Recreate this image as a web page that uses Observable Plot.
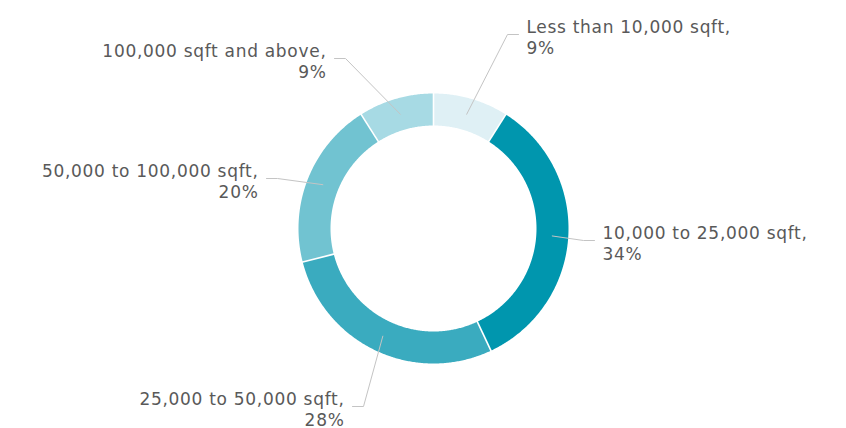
<!DOCTYPE html>
<html>
<head>
<meta charset="utf-8">
<script src="https://cdn.jsdelivr.net/npm/d3@7"></script>
<script src="https://cdn.jsdelivr.net/npm/@observablehq/plot@0.6"></script>
<style>
  html, body { margin: 0; padding: 0; background: #fff; }
  #chart svg text { letter-spacing: 0.7px; }
</style>
</head>
<body>
<div id="chart"></div>
<script>
// ---- data ----
const categories = [
  "Less than 10,000 sqft",
  "10,000 to 25,000 sqft",
  "25,000 to 50,000 sqft",
  "50,000 to 100,000 sqft",
  "100,000 sqft and above"
];
const shares = [9, 34, 28, 20, 9];
const colors = ["#dff0f5", "#0096ae", "#3aabbf", "#71c3d1", "#a7dae4"];

// ---- layout (label elbow points relative to the donut centre, y up) ----
const labelElbows = [[74, 194], [150, -12], [-70, -178], [-156, 50], [-88, 170]];

const W = 846, H = 428, CX = 433, CY = 228;
const R_OUT = 135, R_IN = 103, R_MID = 119;
const total = d3.sum(shares);

const toXY = (angDeg, r) => {
  const a = angDeg * Math.PI / 180;
  return [r * Math.sin(a), r * Math.cos(a)];
};

// slice angles
let cum = 0;
const slices = categories.map((key, i) => {
  const a0 = cum / total * 360;
  cum += shares[i];
  const a1 = cum / total * 360;
  return {key, share: shares[i], a0, a1, mid: (a0 + a1) / 2, side: (a0 + a1) / 2 < 180 ? "right" : "left", elbow: labelElbows[i]};
});

// ring polygons
const ringPts = [];
for (const s of slices) {
  const n = Math.max(4, Math.ceil((s.a1 - s.a0) / 0.5));
  const outer = d3.range(n + 1).map(k => s.a0 + (s.a1 - s.a0) * k / n);
  for (const a of outer) { const [x, y] = toXY(a, R_OUT); ringPts.push({key: s.key, x, y}); }
  for (const a of outer.slice().reverse()) { const [x, y] = toXY(a, R_IN); ringPts.push({key: s.key, x, y}); }
  const [x0, y0] = toXY(s.a0, R_OUT); ringPts.push({key: s.key, x: x0, y: y0});
}

// separators between slices
const seps = slices.map(s => {
  const [x1, y1] = toXY(s.a0, R_IN - 1);
  const [x2, y2] = toXY(s.a0, R_OUT + 1);
  return {x1, y1, x2, y2};
});

// leader lines
const HSEG = 11, GAP = 8;
const leaderPts = [];
const labels = [];
for (const s of slices) {
  const [sx, sy] = toXY(s.mid, R_MID);
  const [ex, ey] = s.elbow;
  const dir = s.side === "right" ? 1 : -1;
  leaderPts.push({key: s.key, x: sx, y: sy});
  leaderPts.push({key: s.key, x: ex, y: ey});
  leaderPts.push({key: s.key, x: ex + dir * HSEG, y: ey});
  labels.push({side: s.side, x: ex + dir * (HSEG + GAP), y: ey, text: `${s.key},\n${s.share}%`});
}

const textOpts = {
  x: "x", y: "y", text: "text",
  fill: "#595959", fontSize: 17, lineHeight: 20.5 / 17,
  lineAnchor: "top", dy: -15.6
};

const chart = Plot.plot({
  width: W, height: H, margin: 0,
  x: {domain: [-CX, W - CX], axis: null},
  y: {domain: [-(H - CY), CY], axis: null},
  color: {domain: categories, range: colors},
  style: {fontFamily: "'DejaVu Sans', sans-serif", background: "#fff", overflow: "visible"},
  marks: [
    Plot.line(ringPts, {x: "x", y: "y", z: "key", fill: "key", stroke: "none", curve: "linear"}),
    Plot.link(seps, {x1: "x1", y1: "y1", x2: "x2", y2: "y2", stroke: "#fff", strokeWidth: 1.6}),
    Plot.line(leaderPts, {x: "x", y: "y", z: "key", stroke: "#c4c4c4", strokeWidth: 1, curve: "linear"}),
    Plot.text(labels.filter(d => d.side === "right"), {...textOpts, textAnchor: "start"}),
    Plot.text(labels.filter(d => d.side === "left"), {...textOpts, textAnchor: "end"})
  ]
});
document.getElementById("chart").appendChild(chart);
</script>
</body>
</html>
